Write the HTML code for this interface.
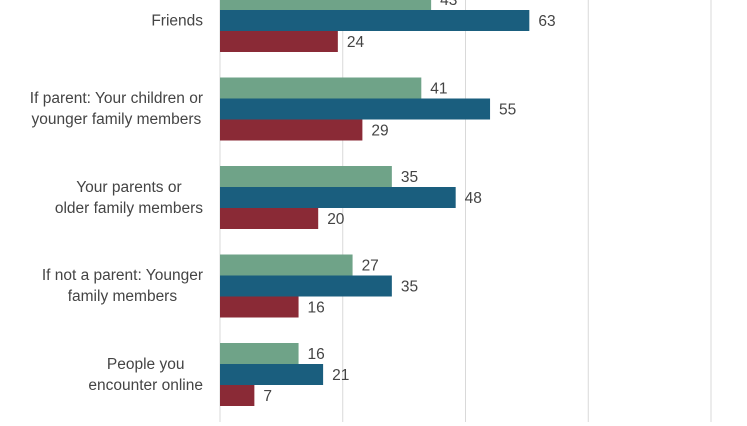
<!DOCTYPE html>
<html><head><meta charset="utf-8">
<style>
body{margin:0;background:#fff;width:747px;height:426px;overflow:hidden;font-family:"Liberation Sans",sans-serif;}
#wrap{position:relative;width:747px;height:426px;}
svg{position:absolute;left:0;top:0;}
.lab{position:absolute;right:544px;text-align:center;font-size:15.5px;line-height:21px;color:#444;transform:translateY(-50%);white-space:nowrap;}
</style></head>
<body>
<div id="wrap">
<svg id="chart" width="747" height="426"></svg>
</div>
<script>
const categories=["Friends","If parent: Your children or<br>younger family members","Your parents or<br>older family members","If not a parent: Younger<br>family members","People you<br>encounter online"];
const seriesGreen=[43,41,35,27,16];
const seriesBlue=[63,55,48,35,21];
const seriesRed=[24,29,20,16,7];
const ticks=[0,25,50,75,100];
const colors=["#6fa388","#1a5e7e","#8a2a36"];
const NS="http://www.w3.org/2000/svg";
const svg=document.getElementById('chart');
const wrap=document.getElementById('wrap');
const x0=220,unit=4.91;
const xs=v=>x0+v*unit;
const groupTop=i=>-11+i*88.5;
const bh=21;
for(const t of ticks){
  const l=document.createElementNS(NS,'line');
  
  
  l.setAttribute('x1',xs(t));l.setAttribute('x2',xs(t));
  l.setAttribute('y1',0);l.setAttribute('y2',422);
  l.setAttribute('stroke','#d9d9d9');l.setAttribute('stroke-width','1');
  svg.appendChild(l);
}
const series=[seriesGreen,seriesBlue,seriesRed];
const snames=["green","blue","red"];
categories.forEach((c,i)=>{
  series.forEach((s,k)=>{
    const y=groupTop(i)+k*bh;
    const r=document.createElementNS(NS,'rect');
    
    
    r.setAttribute('x',x0);r.setAttribute('y',y);
    r.setAttribute('width',xs(s[i])-x0);r.setAttribute('height',bh);
    r.setAttribute('fill',colors[k]);
    svg.appendChild(r);
    const t=document.createElementNS(NS,'text');
    
    
    t.setAttribute('x',xs(s[i])+9);t.setAttribute('y',y+bh/2+5.5);
    t.setAttribute('font-size','15.5');t.setAttribute('fill','#444');
    t.setAttribute('font-family','Liberation Sans, sans-serif');
    t.textContent=s[i];
    svg.appendChild(t);
  });
  const d=document.createElement('div');
  
  
  d.className='lab';
  d.style.top=(groupTop(i)+bh*1.5)+'px';
  d.innerHTML=c;
  wrap.appendChild(d);
});
</script>
</body></html>
